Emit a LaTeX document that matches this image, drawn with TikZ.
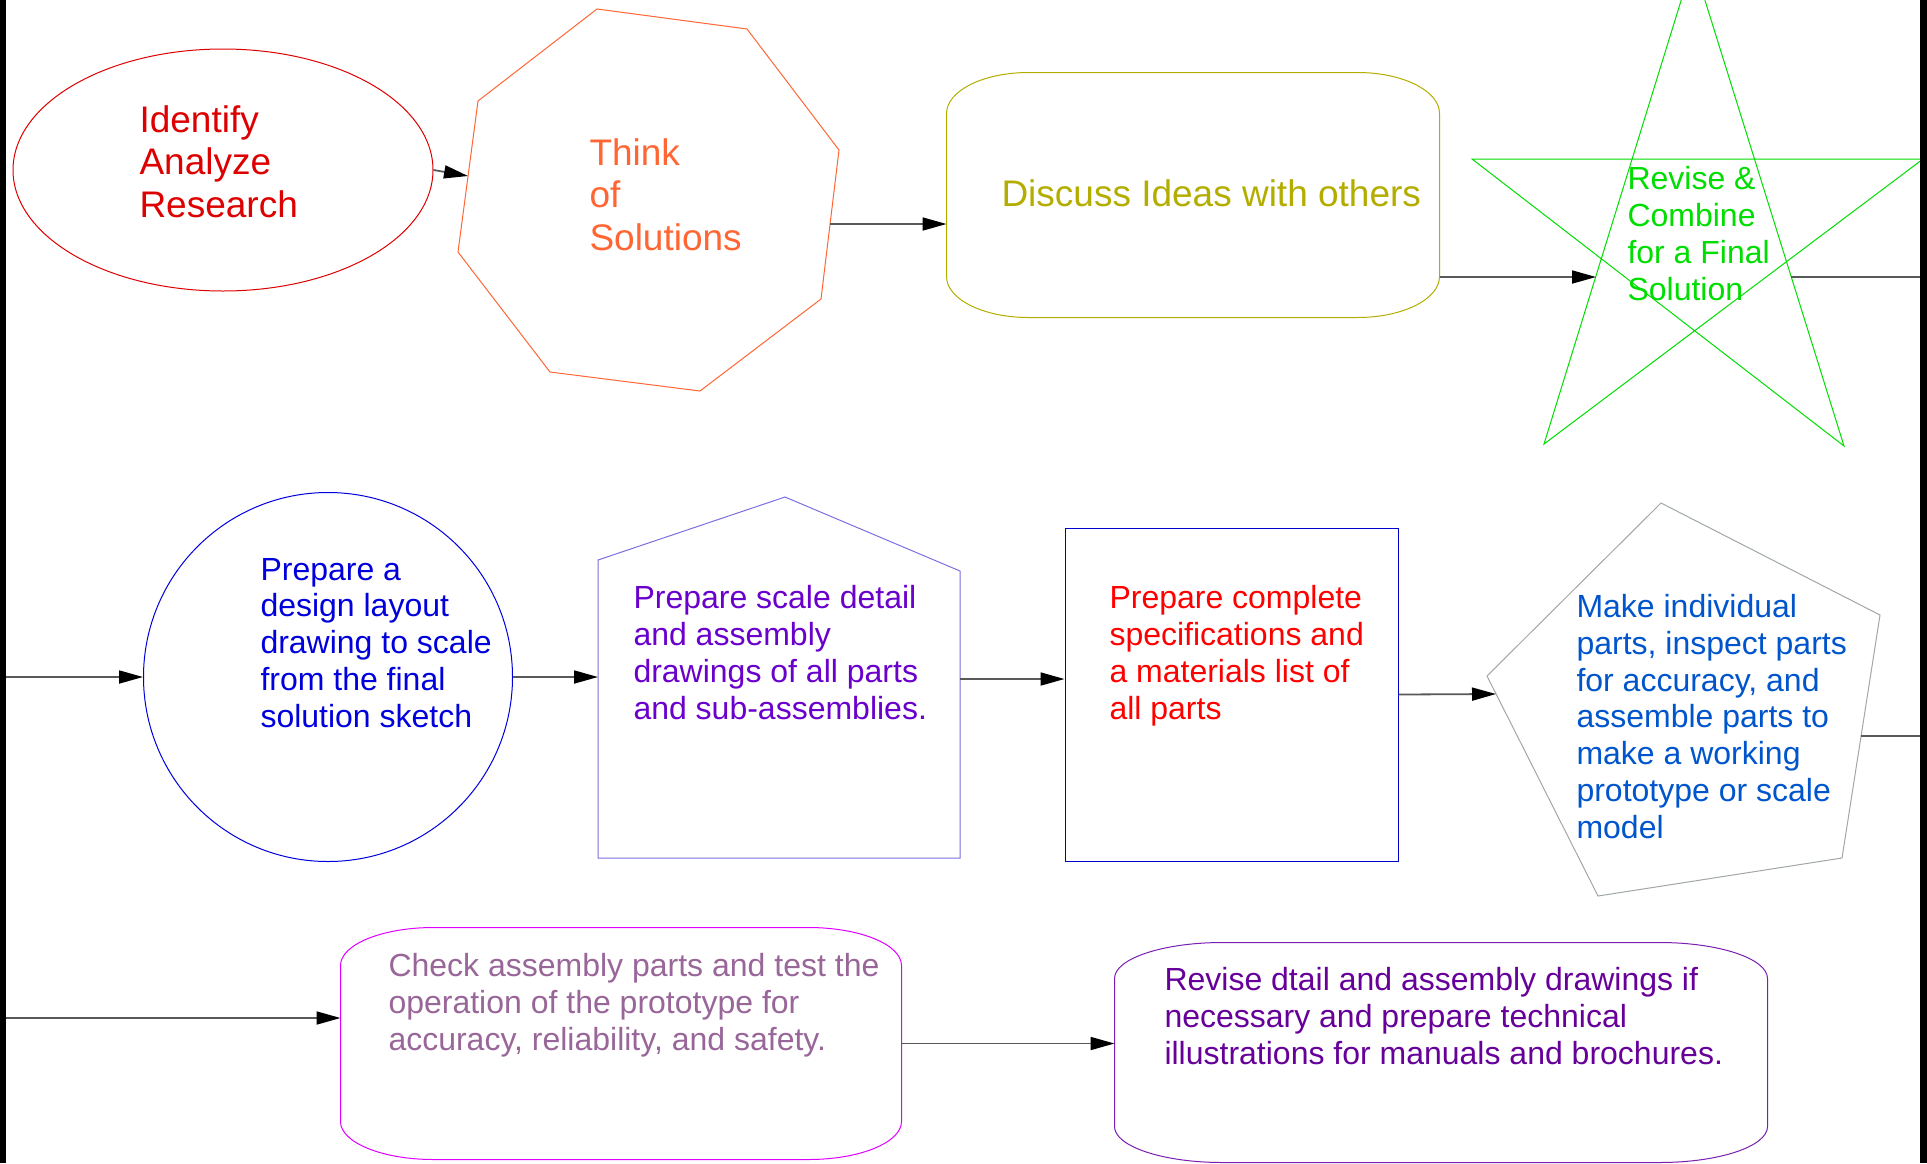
\documentclass[tikz,border=0pt]{standalone}
\usepackage{fontspec}
\setmainfont{Liberation Sans}
\usetikzlibrary{shapes.geometric}
\usetikzlibrary{arrows.meta}

\definecolor{ideared}{HTML}{DD0000}
\definecolor{thinkorange}{HTML}{FF6633}
\definecolor{discussolive}{HTML}{B3AD00}
\definecolor{revisegreen}{HTML}{00DD00}
\definecolor{layoutblue}{HTML}{0000DD}
\definecolor{detailline}{HTML}{7A6FE0}
\definecolor{detailtext}{HTML}{6A00CC}
\definecolor{specsblue}{HTML}{0000CC}
\definecolor{specsred}{HTML}{FF0000}
\definecolor{protogray}{HTML}{A0A8A0}
\definecolor{prototext}{HTML}{0055CC}
\definecolor{testline}{HTML}{DD00FF}
\definecolor{testtext}{HTML}{996699}
\definecolor{illusline}{HTML}{7A1FB0}
\definecolor{illustext}{HTML}{660099}

% box with elliptic corners round a named node
\newcommand{\ovalframe}[4][]{%
  \draw[#1] ([xshift=#3]#2.north west) -- ([xshift=-#3]#2.north east)
    arc[start angle=90, end angle=0, x radius=#3, y radius=#4]
    -- ([yshift=#4]#2.south east)
    arc[start angle=0, end angle=-90, x radius=#3, y radius=#4]
    -- ([xshift=#3]#2.south west)
    arc[start angle=270, end angle=180, x radius=#3, y radius=#4]
    -- ([yshift=-#4]#2.north west)
    arc[start angle=180, end angle=90, x radius=#3, y radius=#4] -- cycle;}

\tikzset{
  bigtext/.style={anchor=base west, align=left, inner sep=0pt,
                  font=\fontsize{37}{42.5}\selectfont},
  smalltext/.style={anchor=base west, align=left, inner sep=0pt,
                    font=\fontsize{32}{36.7}\selectfont},
  flow/.style={-{Triangle[length=24pt, width=13pt, color=black]},
               line width=1.8pt, draw=black!65},
  wrapline/.style={line width=1.8pt, draw=black!65}
}

\begin{document}
\begin{tikzpicture}[x=1pt, y=-1pt]
\useasboundingbox (0,0) rectangle (1927,1163);
\clip (0,0) rectangle (1927,1163);
\begin{scope}[line width=1pt]

  % first row (text nodes sit on the baseline of their last line)
  \node[ellipse, draw=ideared, minimum width=420pt, minimum height=242pt, inner sep=0pt]
       (idea) at (223,170) {};
  \node[bigtext, text=ideared] (idea-t) at (139,217) {Identify\\Analyze\\Research};

  \draw[thinkorange] (597,9) -- (747,29) -- (839,150) -- (821,299) -- (700,391)
                     -- (550,372) -- (458,252) -- (478,101) -- cycle;
  \coordinate (think-w) at (468,176);
  \coordinate (think-e) at (830,224);
  \node[bigtext, text=thinkorange] (think-t) at (589,250) {Think\\of\\Solutions};

  \node[rectangle, minimum width=492pt, minimum height=244pt, inner sep=0pt]
       (discuss) at (1193,195) {};
  \ovalframe[discussolive]{discuss}{82pt}{41pt}
  \node[bigtext, text=discussolive] (discuss-t) at (1001,206) {Discuss Ideas with others};

  \draw[revisegreen] (1693,-38) -- (1544,444) -- (1923,159) -- (1472,159)
                     -- (1844,446) -- cycle;
  \coordinate (revise-w) at (1596,277);
  \coordinate (revise-e) at (1791,277);
  \node[smalltext, text=revisegreen] (revise-t) at (1627,300)
       {Revise \&\\Combine\\for a Final\\Solution};

  \draw[flow] (idea.east) -- (think-w);
  \draw[flow] (think-e) -- (think-e -| discuss.west);
  \draw[flow] (discuss.east |- revise-w) -- (revise-w);
  \coordinate (wrap1-r) at (1920,277);
  \draw[wrapline] (revise-e) -- (wrap1-r);

  % second row
  \node[circle, draw=layoutblue, minimum size=369pt, inner sep=0pt]
       (layout) at (328,677) {};
  \node[smalltext, text=layoutblue] (layout-t) at (260,727)
       {Prepare a\\design layout\\drawing to scale\\from the final\\solution sketch};

  \draw[detailline] (785,497) -- (960,571) -- (960,858) -- (598,858) -- (598,560) -- cycle;
  \coordinate (detail-w) at (598,677);
  \coordinate (detail-e) at (960,679);
  \node[smalltext, text=detailtext] (detail-t) at (633,719)
       {Prepare scale detail\\and assembly\\drawings of all parts\\and sub-assemblies.};

  \node[rectangle, draw=specsblue, minimum width=333pt, minimum height=333pt, inner sep=0pt]
       (specs) at (1231.5,694.5) {};
  \node[smalltext, text=specsred] (specs-t) at (1109,719)
       {Prepare complete\\specifications and\\a materials list of\\all parts};

  \draw[protogray] (1661,503) -- (1880,615) -- (1842,858) -- (1598,896) -- (1487,676) -- cycle;
  \coordinate (proto-w) at (1496,694);
  \coordinate (proto-e) at (1861,736);
  \node[smalltext, text=prototext] (proto-t) at (1576,838)
       {Make individual\\parts, inspect parts\\for accuracy, and\\assemble parts to\\make a working\\prototype or scale\\model};

  \coordinate (wrap1-l) at (6,677);
  \draw[flow] (wrap1-l) -- (layout.west);
  \draw[flow] (layout.east) -- (detail-w);
  \draw[flow] (detail-e) -- (detail-e -| specs.west);
  \draw[flow] (specs.east) -- (proto-w);
  \coordinate (wrap2-r) at (1920,736);
  \draw[wrapline] (proto-e) -- (wrap2-r);

  % third row
  \node[rectangle, minimum width=560pt, minimum height=231pt, inner sep=0pt]
       (test) at (621,1043.5) {};
  \ovalframe[testline]{test}{93pt}{38pt}
  \node[smalltext, text=testtext] (test-t) at (388,1050)
       {Check assembly parts and test the\\operation of the prototype for\\accuracy, reliability, and safety.};

  \node[rectangle, minimum width=652pt, minimum height=219pt, inner sep=0pt]
       (illus) at (1441,1052.5) {};
  \ovalframe[illusline]{illus}{108pt}{36pt}
  \node[smalltext, text=illustext] (illus-t) at (1164,1064)
       {Revise dtail and assembly drawings if\\necessary and prepare technical\\illustrations for manuals and brochures.};

  \coordinate (wrap2-l) at (6,1018);
  \draw[flow] (wrap2-l) -- (wrap2-l -| test.west);
  \draw[flow] (test.east) -- (test.east -| illus.west);

\end{scope}

% page edges
\fill[black] (0,0) rectangle (6,1163);
\fill[black] (1920,0) rectangle (1927,1163);
\end{tikzpicture}
\end{document}
